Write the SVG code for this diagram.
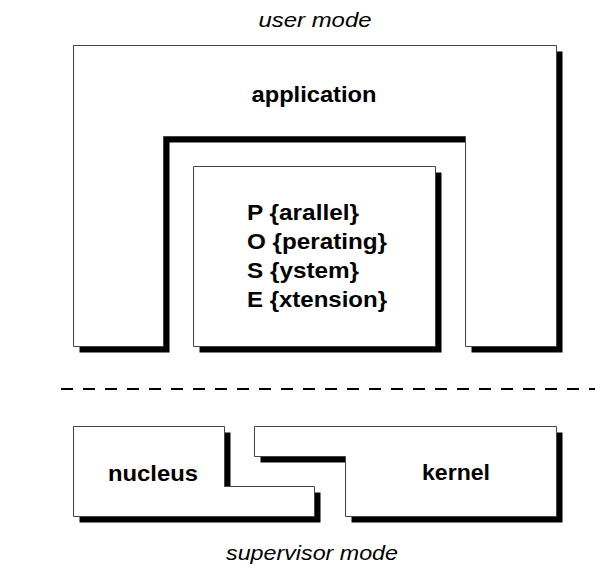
<svg xmlns="http://www.w3.org/2000/svg" width="595" height="575" viewBox="0 0 595 575">
  <style>
    .shadow { fill: #000; stroke: none; }
    .box { fill: #fff; stroke: #444; stroke-width: 1; }
    .lbl { font-family: "Liberation Sans", Arial, Helvetica, sans-serif; font-weight: bold; font-size: 22px; fill: #000; }
    .mode { font-family: "Liberation Sans", Arial, Helvetica, sans-serif; font-style: italic; font-size: 21px; fill: #000; }
    .sep { stroke: #000; stroke-width: 1.8; stroke-dasharray: 12 10; fill: none; }
  </style>
  <defs>
    <path id="appShape" d="M73.5,45.5 H556.5 V346.5 H465.5 V136.5 H163.5 V346.5 H73.5 Z"/>
    <path id="poseShape" d="M193.5,166.5 H435.5 V346.5 H193.5 Z"/>
    <path id="nucShape" d="M73.5,426.5 H224.5 V486.5 H314.5 V516.5 H73.5 Z"/>
    <path id="kerShape" d="M254.5,426.5 H556.5 V516.5 H345.5 V456.5 H254.5 Z"/>
  </defs>

  <text class="mode" x="315" y="27" text-anchor="middle" textLength="113" lengthAdjust="spacingAndGlyphs">user mode</text>

  <g id="application">
    <use href="#appShape" class="shadow" transform="translate(6,6)"/>
    <use href="#appShape" class="box"/>
    <text class="lbl" x="314" y="102" text-anchor="middle" textLength="125" lengthAdjust="spacingAndGlyphs">application</text>
  </g>

  <g id="pose">
    <use href="#poseShape" class="shadow" transform="translate(6,6)"/>
    <use href="#poseShape" class="box"/>
    <text class="lbl" x="247" y="220" textLength="112" lengthAdjust="spacingAndGlyphs">P {arallel}</text>
    <text class="lbl" x="247" y="249" textLength="140" lengthAdjust="spacingAndGlyphs">O {perating}</text>
    <text class="lbl" x="247" y="278" textLength="112" lengthAdjust="spacingAndGlyphs">S {ystem}</text>
    <text class="lbl" x="247" y="307" textLength="140" lengthAdjust="spacingAndGlyphs">E {xtension}</text>
  </g>

  <g id="connectors">
    <line class="sep" x1="61" y1="389" x2="595" y2="389"/>
  </g>

  <g id="nucleus">
    <use href="#nucShape" class="shadow" transform="translate(6,6)"/>
    <use href="#nucShape" class="box"/>
    <text class="lbl" x="153" y="481" text-anchor="middle" textLength="90" lengthAdjust="spacingAndGlyphs">nucleus</text>
  </g>

  <g id="kernel">
    <use href="#kerShape" class="shadow" transform="translate(6,6)"/>
    <use href="#kerShape" class="box"/>
    <text class="lbl" x="456" y="480" text-anchor="middle" textLength="68" lengthAdjust="spacingAndGlyphs">kernel</text>
  </g>

  <text class="mode" x="312" y="560" text-anchor="middle" textLength="172" lengthAdjust="spacingAndGlyphs">supervisor mode</text>
</svg>
